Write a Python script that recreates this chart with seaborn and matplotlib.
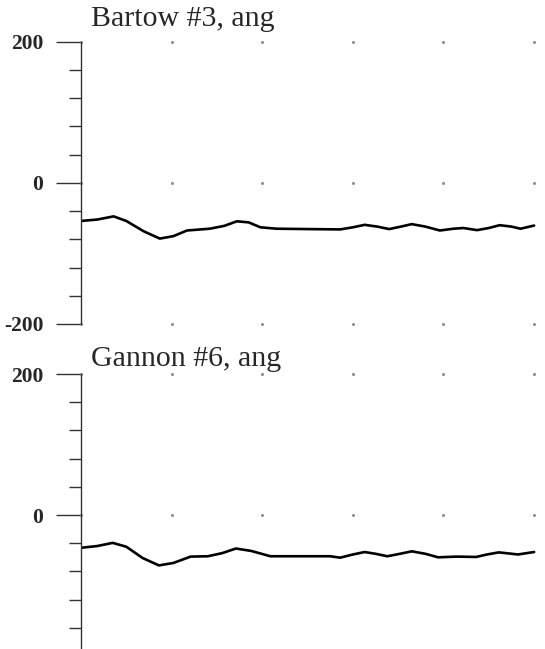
"""Angle traces for two generator units."""
# %%
import matplotlib
matplotlib.use("Agg")
import pandas as pd
import seaborn as sns
import matplotlib.pyplot as plt
from matplotlib.ticker import MultipleLocator

# %%
# values
bartow_t = [0, 0.18, 0.36, 0.5, 0.69, 0.87, 1.02, 1.17, 1.42, 1.58, 1.72,
            1.85, 1.98, 2.16, 2.5, 2.86, 3.0, 3.13, 3.27, 3.40, 3.53, 3.65,
            3.80, 3.96, 4.11, 4.22, 4.37, 4.50, 4.62, 4.75, 4.85, 5.0]
bartow_ang = [-54, -52, -47.5, -54, -68.5, -79, -75.5, -67.5, -65, -61, -54.5,
              -56, -63, -65, -65.5, -66, -63, -59.5, -62, -65.5, -62, -58.5,
              -62, -67.5, -65, -64, -67, -64, -60, -62, -65, -60.5]

gannon_t = [0, 0.18, 0.35, 0.5, 0.68, 0.86, 1.02, 1.21, 1.40, 1.56, 1.71,
            1.88, 2.09, 2.4, 2.75, 2.86, 3.0, 3.13, 3.25, 3.38, 3.52, 3.65,
            3.80, 3.94, 4.15, 4.36, 4.48, 4.61, 4.72, 4.82, 5.0]
gannon_ang = [-46.5, -44, -39.5, -45, -61, -71.5, -68, -59, -58.5, -54, -47.5,
              -51, -58.5, -58.5, -58.5, -60.5, -56, -52.5, -55, -58.5, -55, -51.5,
              -55, -60, -59, -59.5, -56, -53, -54.5, -56, -52.5]

titles = ["Bartow #3, ang", "Gannon #6, ang"]
y_ticks = [-200, 0, 200]
grid_x = [0, 1, 2, 3, 4, 5]

# %%
sns.set_style("white")
plt.rcParams["font.family"] = ["Liberation Serif", "DejaVu Serif"]

fig = plt.figure(figsize=(5.45, 6.49), dpi=100)
ax_top = fig.add_axes([0.1486, 0.5008, 0.8514, 0.4349])
ax_bot = fig.add_axes([0.1486, -0.0108, 0.8514, 0.4345])

panels = [
    (ax_top, bartow_t, bartow_ang, titles[0], 0.9607),
    (ax_bot, gannon_t, gannon_ang, titles[1], 0.4365),
]

for ax, t, ang, title, ty in panels:
    df = pd.DataFrame({"t": t, "ang": ang})
    sns.lineplot(data=df, x="t", y="ang", ax=ax, color="black",
                 linewidth=1.9, legend=False)

    # dotted grid marks
    for yv in y_ticks:
        ax.plot(grid_x, [yv] * len(grid_x), linestyle="none", marker="s",
                markersize=1.0, color="#888888", clip_on=False)

    ax.set_xlim(0, 5.12)
    ax.set_ylim(-200, 200)
    ax.set_yticks(y_ticks)
    ax.set_yticklabels([str(v) for v in y_ticks])
    ax.yaxis.set_minor_locator(MultipleLocator(40))
    ax.set_xticks([])
    ax.set_xlabel("")
    ax.set_ylabel("")
    for side in ["top", "right", "bottom"]:
        ax.spines[side].set_visible(False)
    ax.spines["left"].set_color("#333333")
    ax.spines["left"].set_linewidth(1.0)
    ax.tick_params(axis="y", which="major", left=True, length=18, width=1.0,
                   color="#333333", pad=9, labelsize=15.5)
    ax.tick_params(axis="y", which="minor", left=True, length=9, width=1.0,
                   color="#333333")
    for lbl in ax.get_yticklabels():
        lbl.set_fontweight("bold")
    ax.patch.set_alpha(0)

    fig.text(0.167, ty, title, fontsize=21.5, va="baseline", ha="left")

fig.savefig("out.png", dpi=100)
